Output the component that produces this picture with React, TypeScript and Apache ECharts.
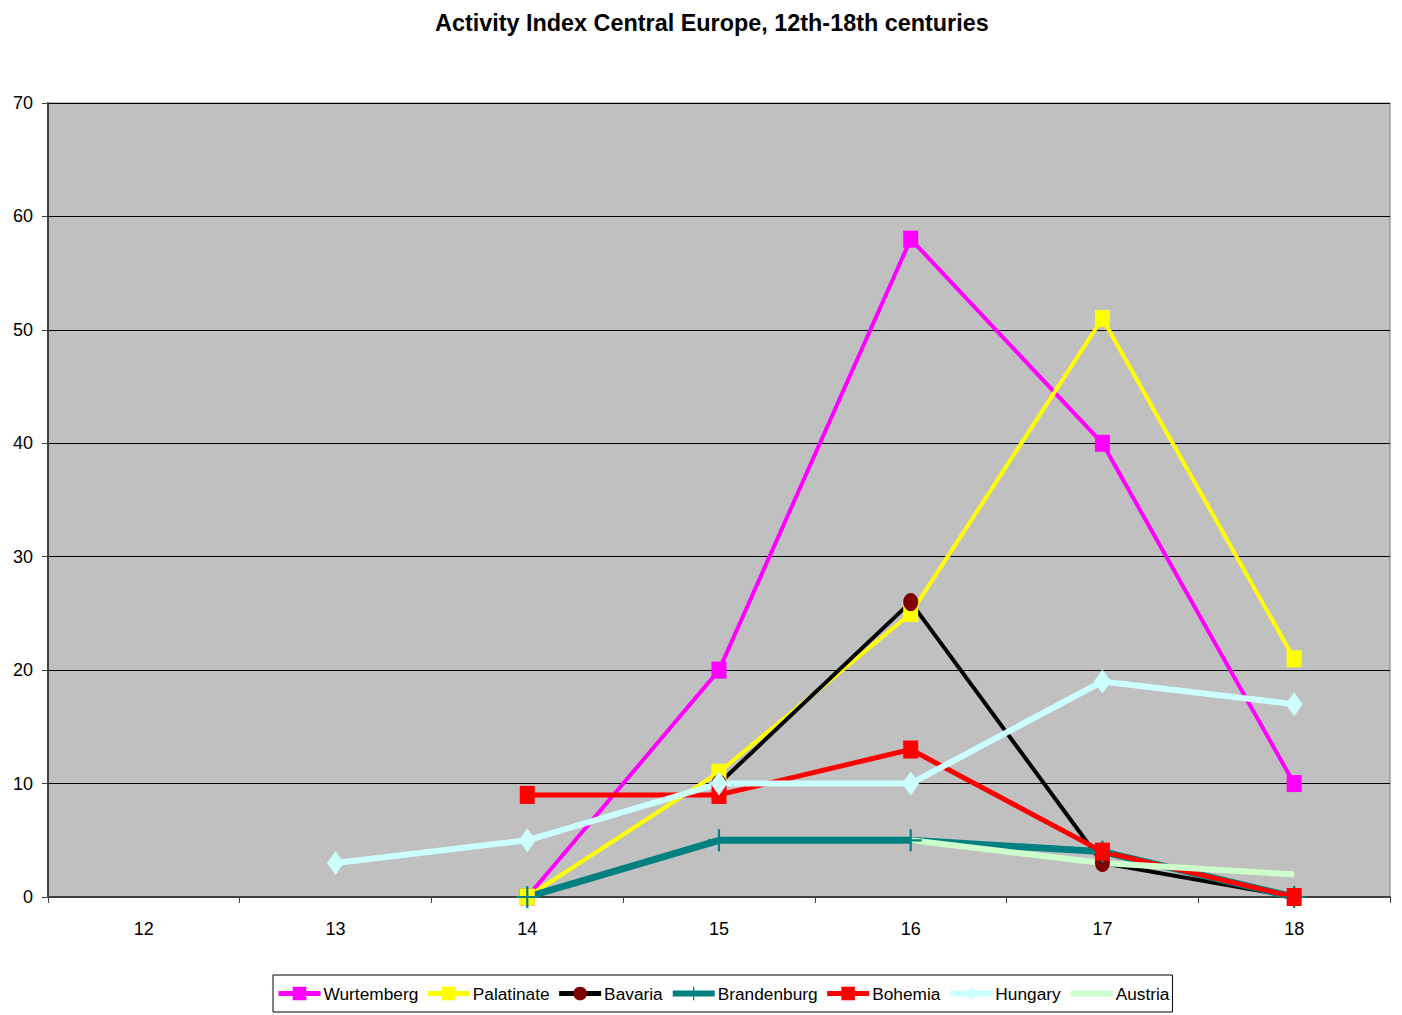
import React, { useEffect, useRef } from "react";
import * as echarts from "echarts";

const categories = ["12", "13", "14", "15", "16", "17", "18"];
const wurtemberg = [null, null, 0, 20, 58, 40, 10];
const palatinate = [null, null, 0, 11, 25, 51, 21];
const bavaria = [null, null, null, 10, 26, 3, 0];
const brandenburg = [null, null, 0, 5, 5, 4, 0];
const bohemia = [null, null, 9, 9, 13, 4, 0];
const hungary = [null, 3, 5, 10, 10, 19, 17];
const austria = [null, null, null, null, 5, 3, 2];
const seriesNames = ["Wurtemberg", "Palatinate", "Bavaria", "Brandenburg", "Bohemia", "Hungary", "Austria"];
const lineWidths = [4, 4, 4, 7, 5, 6, 6];
const legendLineWidths = [5, 5, 5, 6, 5, 6, 6];

const FONT = "Liberation Sans, Arial, sans-serif";
const PLUS = "path://M9,0h2v9h9v2h-9v9h-2v-9h-9v-2h9z";

export default function App() {
  const ref = useRef<HTMLDivElement>(null);
  useEffect(() => {
    document.body.style.margin = "0";
    if (!ref.current) return;
    const chart = echarts.init(ref.current, null, { renderer: "svg" });
    const mk = (i: number, data: any[], color: string, symbol: string, symbolSize: any, markerColor?: string) => ({
      name: seriesNames[i],
      type: "line",
      data,
      symbol,
      symbolSize,
      showSymbol: symbol !== "none",
      lineStyle: { color, width: lineWidths[i] },
      itemStyle: { color: markerColor || color, borderWidth: 0 },
      emphasis: { disabled: true },
    });
    chart.setOption({
      animation: false,
      textStyle: { fontFamily: FONT },
      title: {
        text: "Activity Index Central Europe, 12th-18th centuries",
        left: 430,
        top: 6,
        textStyle: { fontFamily: FONT, fontSize: 23.4, fontWeight: "bold", color: "#000" },
      },
      grid: {
        left: 48,
        right: 12,
        top: 103,
        bottom: 118,
        show: true,
        backgroundColor: "#C0C0C0",
        borderColor: "#808080",
        borderWidth: 1,
      },
      legend: {
        left: 273,
        top: 975,
        padding: [10, 3, 10, 3],
        itemGap: 7,
        itemWidth: 42,
        itemHeight: 17,
        borderColor: "#000",
        borderWidth: 1,
        textStyle: { fontFamily: FONT, fontSize: 17.3, color: "#000", padding: [0, 0, 0, -2] },
        data: seriesNames.map((name, i) => ({
          name,
          lineStyle: { width: legendLineWidths[i] },
          itemStyle: name === "Austria" ? { color: "rgba(0,0,0,0)", borderWidth: 0 } : { borderWidth: 0 },
        })),
      },
      xAxis: {
        type: "category",
        data: categories,
        boundaryGap: true,
        axisLine: { lineStyle: { color: "#404040", width: 2 } },
        axisTick: { show: true, length: 6, lineStyle: { color: "#404040" } },
        axisLabel: { fontFamily: FONT, fontSize: 18, color: "#000", margin: 23 },
        splitLine: { show: false },
      },
      yAxis: {
        type: "value",
        min: 0,
        max: 70,
        interval: 10,
        axisLine: { show: true, lineStyle: { color: "#404040", width: 2 } },
        axisTick: { show: true, length: 6, lineStyle: { color: "#404040" } },
        axisLabel: { fontFamily: FONT, fontSize: 18, color: "#000", margin: 15 },
        splitLine: { show: true, lineStyle: { color: "#000", width: 1 } },
      },
      series: [
        mk(0, wurtemberg, "#FF00FF", "rect", [15, 17]),
        mk(1, palatinate, "#FFFF00", "rect", [15, 17]),
        mk(2, bavaria, "#000000", "circle", [15, 18], "#800000"),
        mk(3, brandenburg, "#008080", PLUS, 22),
        mk(4, bohemia, "#FF0000", "rect", [15, 18]),
        mk(5, hungary, "#CCFFFF", "diamond", [17, 24]),
        mk(6, austria, "#CCFFCC", "none", 0),
      ],
    });
    return () => chart.dispose();
  }, []);
  return <div ref={ref} style={{ width: 1402, height: 1015 }} />;
}
